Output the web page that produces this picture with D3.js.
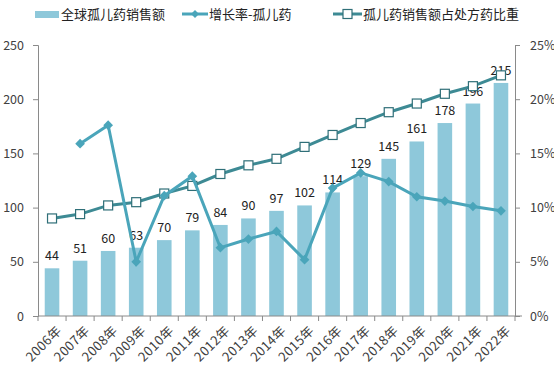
<!DOCTYPE html>
<html><head><meta charset="utf-8">
<script src="https://cdn.jsdelivr.net/npm/d3@7/dist/d3.min.js"></script>
<style>
body{margin:0;background:#fff;}
text{font-family:"Noto Sans CJK SC","Microsoft YaHei",sans-serif;}
</style></head>
<body><svg id="c" width="554" height="365"></svg>
<script>
const years = ["2006年","2007年","2008年","2009年","2010年","2011年","2012年","2013年","2014年","2015年","2016年","2017年","2018年","2019年","2020年","2021年","2022年"];
const sales = [44,51,60,63,70,79,84,90,97,102,114,129,145,161,178,196,215];
const growth = [null,15.9,17.6,5.0,11.1,12.9,6.3,7.1,7.8,5.2,11.8,13.2,12.4,11.0,10.6,10.1,9.7];
const share = [9.0,9.4,10.2,10.5,11.3,12.0,13.1,13.9,14.5,15.6,16.7,17.8,18.8,19.6,20.5,21.2,22.2];
const leftTicks = [0,50,100,150,200,250];
const rightTicks = [0,5,10,15,20,25];
const legendNames = ["全球孤儿药销售额","增长率-孤儿药","孤儿药销售额占处方药比重"];

const barColor = "#8ec8da", growthColor = "#4aa5ba", shareColor = "#3d8a94", axisColor = "#8a8a8a", textColor = "#404040";
const svg = d3.select("#c");
const L = 38, R = 515, T = 45, B = 316;
const x = d3.scaleBand().domain(years).range([L, R]).paddingInner(0.48).paddingOuter(0.24);
const xb = d3.scaleBand().domain(years).range([L, R]);
const yL = d3.scaleLinear().domain([0,250]).range([B, T]);
const yR = d3.scaleLinear().domain([0,25]).range([B, T]);

// bars
svg.append("g").selectAll("rect").data(sales).join("rect")
  .attr("x",(d,i)=>x(years[i])).attr("width",x.bandwidth())
  .attr("y",d=>yL(d)).attr("height",d=>B-yL(d)).attr("fill",barColor);

// axes
const gl = svg.append("g").attr("transform",`translate(${L},0)`)
  .call(d3.axisLeft(yL).tickValues(leftTicks).tickSize(5).tickPadding(9));
const gr = svg.append("g").attr("transform",`translate(${R},0)`)
  .call(d3.axisRight(yR).tickValues(rightTicks).tickSize(5).tickPadding(10).tickFormat(d=>d+"%"));
const gx = svg.append("g").attr("transform",`translate(0,${B})`)
  .call(d3.axisBottom(xb).tickSize(0).tickFormat(""));
[gl,gr,gx].forEach(g=>{
  g.select(".domain").attr("stroke",axisColor);
  g.selectAll(".tick line").attr("stroke",axisColor);
  g.selectAll("text").attr("fill",textColor).attr("font-size",12.5);
});
gx.select(".domain").attr("d",`M${L},0H${R+7}`);
// category boundary ticks
svg.append("g").selectAll("line").data(years.concat(["end"])).join("line")
  .attr("x1",(d,i)=>L+i*xb.step()).attr("x2",(d,i)=>L+i*xb.step())
  .attr("y1",B).attr("y2",B+5).attr("stroke",axisColor);
// x labels
svg.append("g").selectAll("text").data(years).join("text")
  .attr("transform",d=>`translate(${xb(d)+xb.bandwidth()/2+4},${B+9}) rotate(-45)`)
  .attr("text-anchor","end").attr("dy","0.7em").attr("font-size",13).attr("letter-spacing",0.4).attr("fill",textColor).text(d=>d);

// value labels
svg.append("g").selectAll("text").data(sales).join("text")
  .attr("x",(d,i)=>x(years[i])+x.bandwidth()/2).attr("y",d=>yL(d)-8)
  .attr("text-anchor","middle").attr("font-size",12.5).attr("fill","#222").text(d=>d);

const cx = i => xb(years[i]) + xb.bandwidth()/2;
// share line
const shareLine = d3.line().x((d,i)=>cx(i)).y(d=>yR(d));
svg.append("path").datum(share).attr("d",shareLine).attr("fill","none").attr("stroke",shareColor).attr("stroke-width",3);
svg.append("g").selectAll("rect").data(share).join("rect")
  .attr("x",(d,i)=>cx(i)-4.5).attr("y",d=>yR(d)-4.5).attr("width",9).attr("height",9)
  .attr("fill","#fff").attr("stroke","#2f6f78").attr("stroke-width",1.2);

// growth line
const gLine = d3.line().defined(d=>d!==null).x((d,i)=>cx(i)).y(d=>yR(d));
svg.append("path").datum(growth).attr("d",gLine).attr("fill","none").attr("stroke",growthColor).attr("stroke-width",3);
const diamond = d3.symbol().type(d3.symbolDiamond2).size(60);
svg.append("g").selectAll("path").data(growth.map((d,i)=>[d,i]).filter(d=>d[0]!==null)).join("path")
  .attr("transform",d=>`translate(${cx(d[1])},${yR(d[0])})`).attr("d",diamond).attr("fill",growthColor);

// legend
const lg = svg.append("g");
lg.append("rect").attr("x",35).attr("y",11).attr("width",24).attr("height",7).attr("fill",barColor);
lg.append("text").attr("x",61).attr("y",19).attr("font-size",13).attr("fill","#222").text(legendNames[0]);
lg.append("line").attr("x1",182).attr("x2",208).attr("y1",14).attr("y2",14).attr("stroke",growthColor).attr("stroke-width",3);
lg.append("path").attr("transform","translate(195,14)").attr("d",d3.symbol().type(d3.symbolDiamond2).size(40)).attr("fill",growthColor);
lg.append("text").attr("x",209).attr("y",19).attr("font-size",13).attr("fill","#222").text(legendNames[1]);
lg.append("line").attr("x1",333).attr("x2",362).attr("y1",14).attr("y2",14).attr("stroke",shareColor).attr("stroke-width",3);
lg.append("rect").attr("x",343).attr("y",9.5).attr("width",9).attr("height",9).attr("fill","#fff").attr("stroke","#2f6f78").attr("stroke-width",1.2);
lg.append("text").attr("x",363).attr("y",19).attr("font-size",13).attr("fill","#222").text(legendNames[2]);
</script></body></html>
